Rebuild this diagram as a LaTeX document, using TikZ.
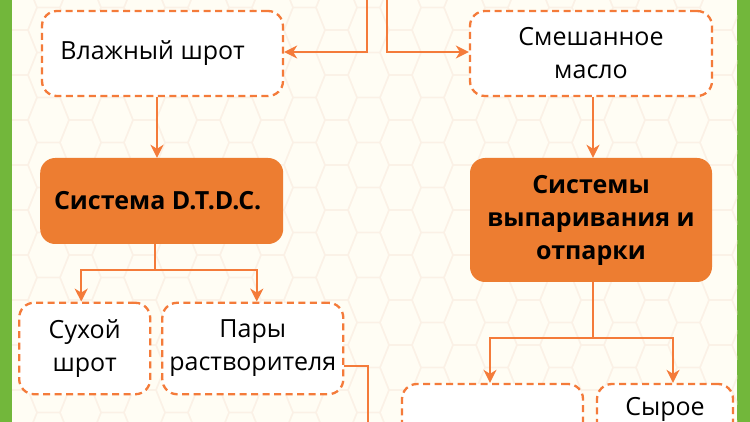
\documentclass[tikz,border=0pt]{standalone}
\usepackage{fontspec}
\setmainfont{Open Sans}
\usetikzlibrary{arrows.meta}
\definecolor{bg}{HTML}{FFFDF4}
\definecolor{hexc}{HTML}{FBF1E6}
\definecolor{grn}{HTML}{72B73B}
\definecolor{orl}{HTML}{F47B3A}
\definecolor{orf}{HTML}{ED7D31}
\begin{document}
\begin{tikzpicture}[x=1pt,y=-1pt,
  dbox/.style={draw=orl, line width=2.3pt, dash pattern=on 7pt off 4.5pt, fill=white, rounded corners=15pt, inner sep=0pt, align=center, font=\fontsize{25}{33}\selectfont, text=black},
  obox/.style={fill=orf, rounded corners=15pt, inner sep=0pt, align=center, font=\fontsize{25}{33}\selectfont\bfseries, text=black},
  txt/.style={align=center, font=\fontsize{25}{33}\selectfont, text=black, inner sep=0pt},
  link/.style={draw=orl, line width=2.3pt},
  arr/.style={link, -{Stealth[length=13pt,width=13pt,inset=4pt]}},
  hexl/.style={draw=hexc, line width=1.3pt}]
\useasboundingbox (0,0) rectangle (750,422);
\clip (0,0) rectangle (750,422);
% background
\fill[grn] (0,0) rectangle (750,422);
\fill[bg] (12,0) rectangle (737,422);
\begin{scope}
\clip (12,0) rectangle (737,422);
\foreach \i in {0,...,24}{
  \pgfmathsetmacro\cx{-15.5+32*\i}
  \pgfmathsetmacro\oy{ifthenelse(isodd(\i),97.5,120)}
  \foreach \m in {-3,...,9}{
    \draw[hexl, shift={(\cx,\oy+45*\m)}] (-20.5,0) -- (-11.5,-22.5) -- (11.5,-22.5) -- (20.5,0) -- (11.5,22.5) -- (-11.5,22.5) -- cycle;
  }}
\end{scope}
% nodes
\node[dbox, minimum width=241pt, minimum height=85pt] (wet) at (162.5,53.5) {Влажный шрот\hspace{20pt}};
\node[dbox, minimum width=242pt, minimum height=85pt] (mix) at (591,53.5) {Смешанное\\масло};
\node[obox, minimum width=243pt, minimum height=86pt] (dtdc) at (161.7,201) {Система D.T.D.C.\hspace{8pt}};
\node[obox, minimum width=242pt, minimum height=124pt] (evap) at (591,220) {Системы\\выпаривания и\\отпарки};
\node[dbox, minimum width=131pt, minimum height=91.5pt] (dry) at (84.7,348.5) {Сухой\\шрот};
\node[dbox, minimum width=181pt, minimum height=91.5pt] (vap) at (252.8,348.5) {Пары\\растворителя};
\node[dbox, minimum width=181pt, minimum height=86pt] (bl) at (492.5,427) {};
\node[dbox, minimum width=136pt, minimum height=86pt] (raw) at (665,427) {};
\node[txt, anchor=base] (rawtxt) at (665,415) {Сырое};
% connectors
\coordinate (t1) at (367,-5);
\coordinate (t2) at (387,-5);
\draw[arr] (t1) |- ([yshift=1.5pt]wet.east);
\draw[arr] (t2) |- ([yshift=1.5pt]mix.west);
\draw[arr] ([xshift=-5.5pt]wet.south) -- ([xshift=-5.5pt]wet.south |- dtdc.north);
\draw[arr] ([xshift=2pt]mix.south) -- ([xshift=2pt]mix.south |- evap.north);
\coordinate (j1) at (155,270);
\draw[link] (dtdc.south -| j1) -- (j1);
\draw[arr] (j1) -| ([xshift=-3.5pt]dry.north);
\draw[arr] (j1) -| ([xshift=4pt]vap.north);
\coordinate (j3) at (368,430);
\draw[link] ([yshift=-17.5pt]vap.east) -| (j3);
\coordinate (j4) at (593,338);
\draw[link] (evap.south -| j4) -- (j4);
\draw[arr] (j4) -| ([xshift=-2.5pt]bl.north);
\draw[arr] (j4) -| ([xshift=8pt]raw.north);
\end{tikzpicture}
\end{document}
